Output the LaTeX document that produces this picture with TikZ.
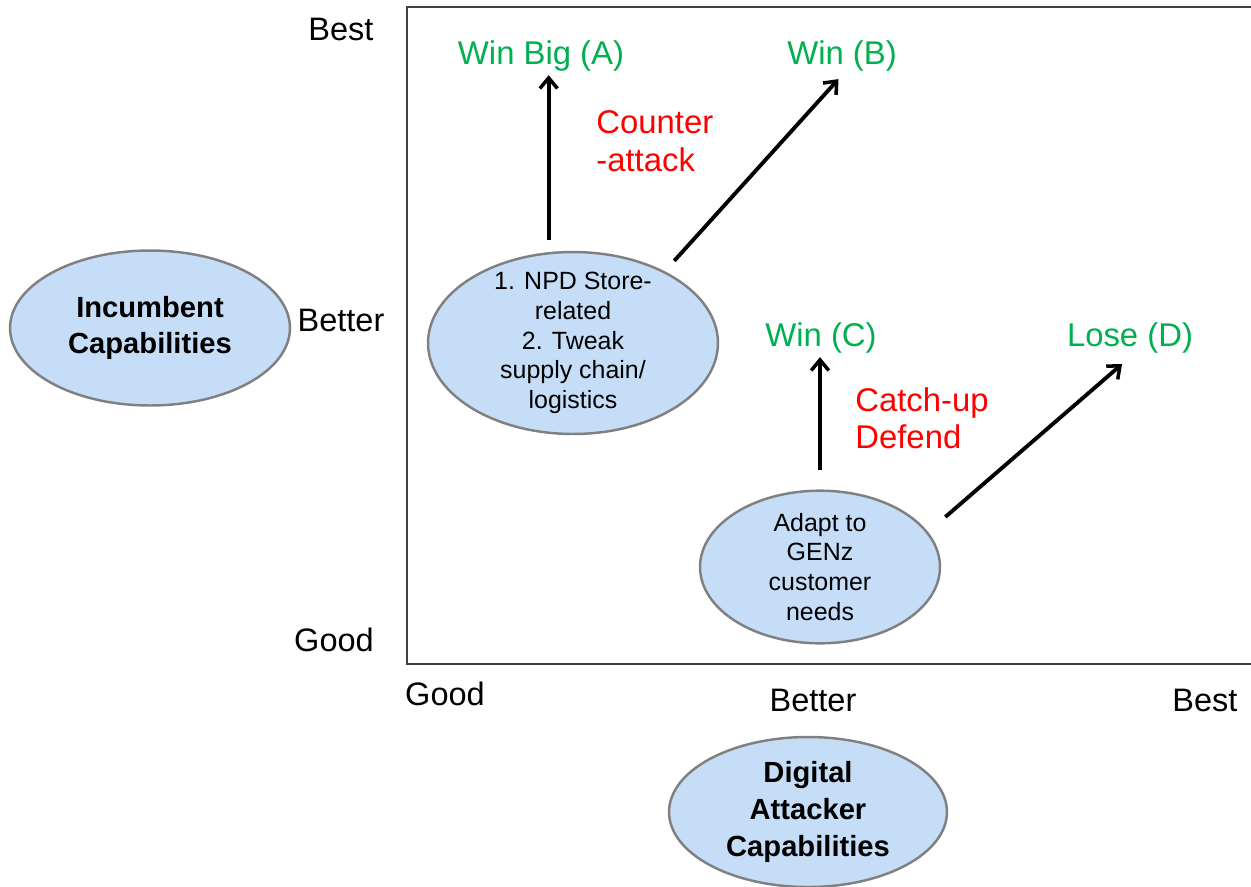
\documentclass[tikz,border=0pt]{standalone}
\usepackage{fontspec}
\setmainfont{Liberation Sans}
\usetikzlibrary{shapes.geometric,arrows.meta}
\definecolor{bubblefill}{RGB}{198,221,247}
\definecolor{bubbledraw}{RGB}{128,128,128}
\definecolor{wingreen}{RGB}{0,176,80}
\definecolor{framegray}{RGB}{64,64,64}

\begin{document}
\begin{tikzpicture}[x=0.02cm,y=-0.02cm,
  bubble/.style={ellipse,draw=bubbledraw,line width=1.4pt,fill=bubblefill,inner sep=0pt,align=center},
  capbubble/.style={bubble,font=\fontsize{16.6}{21}\selectfont\bfseries},
  item/.style={bubble,font=\fontsize{14.2}{17}\selectfont},
  axis label/.style={font=\fontsize{18.5}{21}\selectfont},
  outcome/.style={font=\fontsize{18.7}{21}\selectfont,text=wingreen,inner sep=2pt},
  move/.style={font=\fontsize{18.7}{21.3}\selectfont,text=red,align=left,anchor=west,inner sep=0pt},
  arr/.style={-{Straight Barb[length=6pt,width=10pt,line width=2pt]},line width=2.2pt}]
\useasboundingbox (0,0) rectangle (1251,886);

% frame
\draw[framegray,line width=1.1pt] (1251,7) -- (407,7) -- (407,664) -- (1251,664);

% axis labels
\node[axis label] (yBest) at (341,29) {Best};
\node[axis label] (yBetter) at (341,320) {Better};
\node[axis label] (yGood) at (334,640) {Good};
\node[axis label] (xGood) at (445,694) {Good};
\node[axis label] (xBetter) at (813,700) {Better};
\node[axis label] (xBest) at (1205,700) {Best};

% capability bubbles
\node[capbubble,minimum width=5.6cm,minimum height=3.1cm] (incumbent) at (150,328) {Incumbent\\Capabilities};
\node[capbubble,minimum width=5.56cm,minimum height=3.0cm] (attacker) at (808,812) {Digital\\Attacker\\Capabilities};

% strategies
\node[item,inner ysep=-5pt,minimum width=5.8cm,minimum height=3.64cm] (npd) at (573,343) {1. NPD Store-\\related\\2. Tweak\\supply chain/\\logistics};
\node[item,minimum width=4.8cm,minimum height=3.0cm] (genz) at (820,567) {Adapt to\\GENz\\customer\\needs};

% outcomes
\node[outcome] (winA) at (541,56) {Win Big (A)};
\node[outcome] (winB) at (842,56) {Win (B)};
\node[outcome] (winC) at (821,338) {Win (C)};
\node[outcome] (loseD) at (1130,338) {Lose (D)};

\node[move] (counter) at (596,141) {Counter\\-attack};
\node[move] (catchup) at (855,418) {Catch-up\\Defend};

% moves
\draw[arr,shorten <=7pt] (npd.105) -- (npd.105 |- winA.south);
\draw[arr,shorten <=8pt,shorten >=3pt] (npd.38) -- (winB.south);
\draw[arr,shorten <=11pt] (genz.north) -- (genz.north |- winC.south);
\draw[arr,shorten <=13pt,shorten >=6pt] (genz.18) -- (loseD.south);
\end{tikzpicture}
\end{document}
